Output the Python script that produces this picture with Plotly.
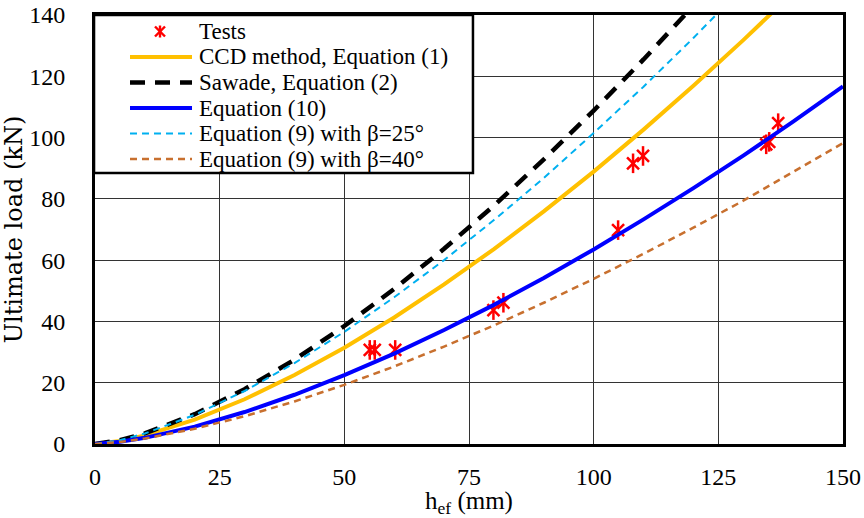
import plotly.graph_objects as go

# ---- data ----
h_curve = [0, 5, 10, 20, 30, 40, 50, 60, 70, 80, 90, 100, 110, 120, 130, 140, 150]

ccd = [0, 0.99, 2.81, 7.95, 14.6, 22.5, 31.4, 41.3, 52.1, 63.6, 75.9, 88.9, 102.6, 116.9, 131.8, 147.3, None]
sawade = [0, 1.22, 3.44, 9.73, 17.9, 27.5, 38.5, 50.6, 63.7, 77.8, 92.9, 108.8, 125.5, 143.0, None, None, None]
eq10 = [0, 0.71, 2.01, 5.68, 10.43, 16.07, 22.45, 29.5, 37.2, 45.4, 54.2, 63.5, 73.3, 83.5, 94.1, 105.2, 116.7]
eq9_25 = [0, 1.24, 3.43, 9.52, 17.3, 26.4, 36.6, 47.9, 60.0, 73.1, 86.8, 101.5, 116.6, 132.5, 149.1, None, None]
eq9_40 = [0, 0.64, 1.78, 4.98, 9.07, 13.89, 19.3, 25.3, 31.8, 38.7, 46.1, 53.9, 62.1, 70.6, 79.4, 88.7, 98.2]

test_h = [55.1, 56.1, 60.2, 79.9, 81.9, 104.9, 107.9, 109.9, 134.6, 135.2, 137.0]
test_p = [30.7, 30.7, 30.7, 43.7, 46.1, 69.8, 91.6, 94.0, 97.8, 98.6, 104.7]

x_ticks = [0, 25, 50, 75, 100, 125, 150]
y_ticks = [0, 20, 40, 60, 80, 100, 120, 140]

series_names = ["Tests", "CCD method, Equation (1)", "Sawade, Equation (2)",
                "Equation (10)", "Equation (9) with β=25°", "Equation (9) with β=40°"]

SERIF = "Liberation Serif, serif"
WIDE_SERIF = "DejaVu Serif, serif"
RED = "#FF0000"

line_styles = [
    dict(color="#FFC000", width=4),
    dict(color="#000000", width=4.5, dash="15px,10px"),
    dict(color="#0000FF", width=4),
    dict(color="#00B0F0", width=2, dash="7px,5px"),
    dict(color="#C8702F", width=2.5, dash="7px,5px"),
]
curves = [ccd, sawade, eq10, eq9_25, eq9_40]

fig = go.Figure()

# test points: Excel-style star = X plus vertical stroke
fig.add_trace(go.Scatter(
    x=test_h, y=test_p, mode="markers", name=series_names[0], showlegend=False,
    marker=dict(symbol="x-thin-open", size=12, color=RED, line=dict(color=RED, width=2.5)),
))
fig.add_trace(go.Scatter(
    x=test_h, y=test_p, mode="markers", name=series_names[0], showlegend=False,
    marker=dict(symbol="line-ns-open", size=14, color=RED, line=dict(color=RED, width=2.5)),
))
for name, ys, st in zip(series_names[1:], curves, line_styles):
    fig.add_trace(go.Scatter(x=h_curve, y=ys, mode="lines", name=name,
                             showlegend=False, line=st))

# ---- legend box drawn in plot-area (paper) coordinates ----
shapes = [dict(type="rect", xref="paper", yref="paper",
               x0=-0.0013, x1=0.5053, y0=0.6317, y1=1.0,
               line=dict(color="#000000", width=2.5), fillcolor="white", layer="above")]
row_y = [0.9615, 0.9021, 0.8427, 0.7832, 0.7238, 0.6643]
for (dx0, dy0, dx1, dy1) in [(0, -6, 0, 6), (-5, -5, 5, 5), (-5, 5, 5, -5)]:
    shapes.append(dict(type="line", xref="paper", yref="paper",
                       xsizemode="pixel", ysizemode="pixel",
                       xanchor=0.0869, yanchor=row_y[0],
                       x0=dx0, x1=dx1, y0=dy0, y1=dy1,
                       line=dict(color=RED, width=2.4), layer="above"))
for ry, st in zip(row_y[1:], line_styles):
    shapes.append(dict(type="line", xref="paper", yref="paper",
                       x0=0.0468, x1=0.1297, y0=ry, y1=ry,
                       line=st, layer="above"))
annotations = [dict(xref="paper", yref="paper", x=0.1364, y=ry, text=name,
                    xanchor="left", yanchor="middle", showarrow=False,
                    font=dict(family=SERIF, size=23, color="#000000"))
               for ry, name in zip(row_y, series_names)]

fig.update_layout(
    width=864, height=518,
    margin=dict(l=95, r=21, t=15, b=74, autoexpand=False),
    paper_bgcolor="white", plot_bgcolor="white",
    font=dict(family=SERIF, size=22, color="#000000"),
    showlegend=False,
    shapes=shapes, annotations=annotations,
)

fig.update_xaxes(
    range=[0, 150], tickvals=x_ticks, ticktext=[str(v) for v in x_ticks],
    showgrid=True, gridcolor="#333333", gridwidth=1,
    showline=True, linecolor="#000000", linewidth=3, mirror=True,
    ticks="", ticklabelstandoff=9, zeroline=False, automargin=False,
    ticklabeloverflow="allow",
    tickfont=dict(family=SERIF, size=24),
    title=dict(text="h<sub>ef</sub> (mm)", font=dict(family=SERIF, size=25), standoff=5),
)
fig.update_yaxes(
    range=[0, 140], tickvals=y_ticks, ticktext=[str(v) for v in y_ticks],
    showgrid=True, gridcolor="#333333", gridwidth=1,
    showline=True, linecolor="#000000", linewidth=3, mirror=True,
    ticks="", ticklabelstandoff=22, zeroline=False, automargin=False,
    ticklabeloverflow="allow",
    tickfont=dict(family=SERIF, size=24),
    title=dict(text="Ultimate load (kN)", font=dict(family=WIDE_SERIF, size=24), standoff=8),
)

fig.write_html("out.html", config={"displayModeBar": False},
               post_script="document.body.style.margin='0';")
